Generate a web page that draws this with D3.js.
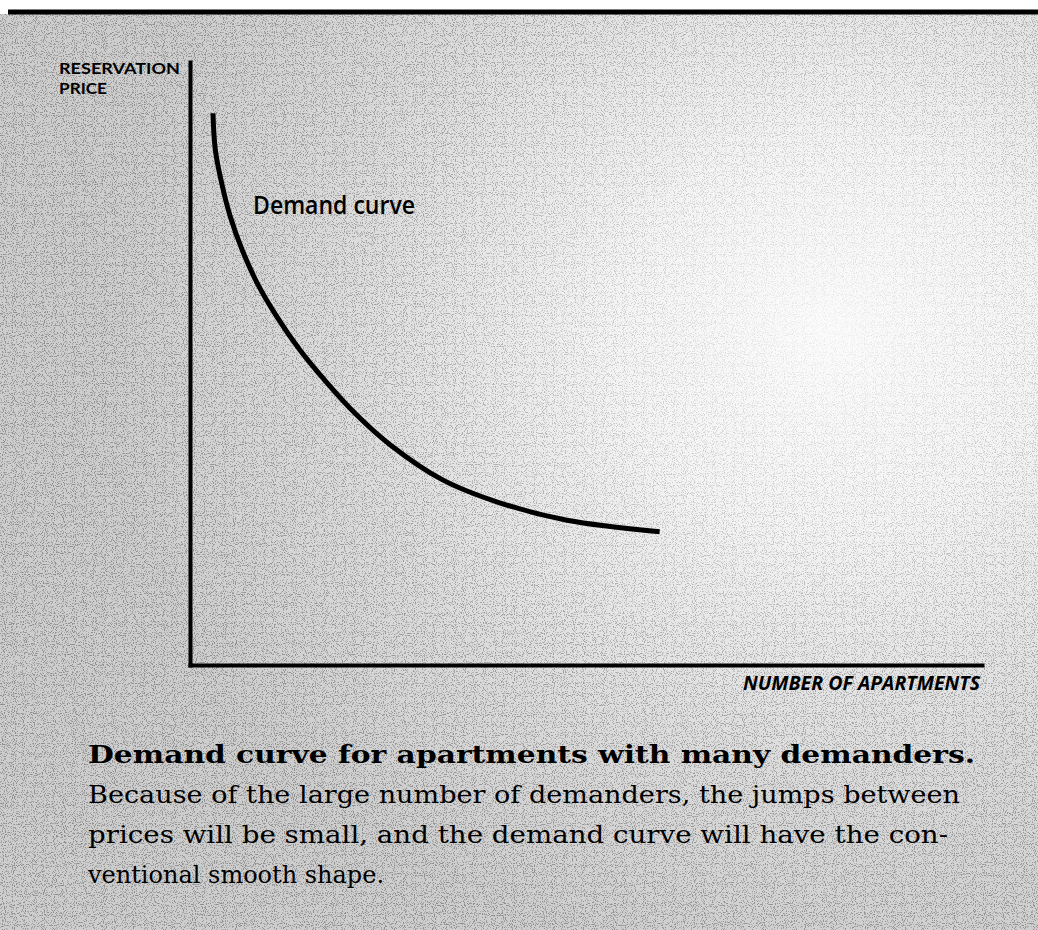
<!DOCTYPE html>
<html>
<head>
<meta charset="utf-8">
<script src="https://cdn.jsdelivr.net/npm/d3@7"></script>
<style>
  body { margin: 0; background: #ffffff; }
  svg { display: block; }
</style>
</head>
<body>
<svg id="chart" width="1038" height="930"></svg>
<script>
// demand curve (quantity 0-100, price 0-100)
var quantity = [2.9, 3.2, 4.0, 5.1, 6.6, 8.5, 11.0, 13.9, 17.3, 20.8, 25.3, 31.9, 39.1, 47.6, 59.3];
var price    = [91.5, 85.4, 79.9, 74.3, 68.8, 63.3, 57.7, 52.2, 46.8, 41.8, 36.5, 30.7, 26.9, 24.0, 22.1];

var y_title = ["RESERVATION", "PRICE"];
var x_title = "NUMBER OF APARTMENTS";
var curve_label = "Demand curve";

var caption_bold = "Demand curve for apartments with many demanders.";
var caption_lines = [
  "Because of the large number of demanders, the jumps between",
  "prices will be small, and the demand curve will have the con-",
  "ventional smooth shape."
];

var data = quantity.map(function(q, i){ return {q: q, p: price[i]}; });

// margins
var margin_l = 190;
var margin_r = 56;
var margin_t = 62;
var plot_bottom = 665;

var svg = d3.select("#chart");
var W = 1038, H = 930;

// scan-like background
var defs = svg.append("defs");
var grad = defs.append("radialGradient")
  .attr("id", "paper")
  .attr("cx", "0.8").attr("cy", "0.35").attr("r", "0.7");
grad.append("stop").attr("offset", "0").attr("stop-color", "#fbfbfb");
grad.append("stop").attr("offset", "0.3").attr("stop-color", "#f3f3f3");
grad.append("stop").attr("offset", "0.7").attr("stop-color", "#dadada");
grad.append("stop").attr("offset", "1").attr("stop-color", "#cdcdcd");

var speck = defs.append("filter").attr("id", "speck")
  .attr("x", 0).attr("y", 0).attr("width", "100%").attr("height", "100%");
speck.append("feTurbulence")
  .attr("type", "fractalNoise").attr("baseFrequency", 0.9)
  .attr("numOctaves", 1).attr("seed", 3).attr("result", "n");
speck.append("feColorMatrix")
  .attr("type", "matrix")
  .attr("values", "0 0 0 0 0  0 0 0 0 0  0 0 0 0 0  0 0 0 -3.2 1.9");
speck.append("feComponentTransfer")
  .append("feFuncA").attr("type", "discrete").attr("tableValues", "0 0 0.35 0.6");

var fade = defs.append("radialGradient")
  .attr("id", "fade")
  .attr("cx", "0.8").attr("cy", "0.35").attr("r", "0.7");
fade.append("stop").attr("offset", "0").attr("stop-color", "#fff").attr("stop-opacity", 0.15);
fade.append("stop").attr("offset", "0.6").attr("stop-color", "#fff").attr("stop-opacity", 0.9);
fade.append("stop").attr("offset", "1").attr("stop-color", "#fff").attr("stop-opacity", 1);
defs.append("mask").attr("id", "speckmask")
  .append("rect").attr("width", W).attr("height", H).attr("fill", "url(#fade)");

svg.append("rect")
  .attr("x", 0).attr("y", 14).attr("width", W).attr("height", H - 14)
  .attr("fill", "url(#paper)");
svg.append("rect")
  .attr("x", 0).attr("y", 14).attr("width", W).attr("height", H - 14)
  .attr("filter", "url(#speck)")
  .attr("mask", "url(#speckmask)")
  .attr("opacity", 0.5);

// top rule
svg.append("line")
  .attr("x1", 8).attr("x2", W).attr("y1", 12).attr("y2", 12)
  .attr("stroke", "#000").attr("stroke-width", 5);

// scales
var xScale = d3.scaleLinear()
  .domain([0, 100])
  .range([margin_l, W - margin_r]);

var yScale = d3.scaleLinear()
  .domain([0, 100])
  .range([plot_bottom, margin_t]);

// axes (plain lines, no ticks)
svg.append("g")
  .attr("transform", "translate(0," + plot_bottom + ")")
  .call(d3.axisBottom(xScale).tickValues([]).tickSizeOuter(0))
  .select(".domain").attr("stroke-width", 4).attr("stroke-linecap", "square");

svg.append("g")
  .attr("transform", "translate(" + margin_l + ",0)")
  .call(d3.axisLeft(yScale).tickValues([]).tickSizeOuter(0))
  .select(".domain").attr("stroke-width", 4).attr("stroke-linecap", "square");

// the curve
var line = d3.line()
  .x(function(d){ return xScale(d.q); })
  .y(function(d){ return yScale(d.p); })
  .curve(d3.curveCatmullRom.alpha(0.5));

svg.append("path")
  .datum(data)
  .attr("d", line)
  .attr("fill", "none")
  .attr("stroke", "#000")
  .attr("stroke-width", 5);

// labels
var sans = "'Open Sans', Lato, sans-serif";

svg.selectAll(".ytitle")
  .data(y_title)
  .enter().append("text")
  .attr("class", "ytitle")
  .attr("x", 59)
  .attr("y", function(d, i){ return 74 + i * 20; })
  .attr("textLength", function(d, i){ return i == 0 ? 121 : 48; })
  .attr("lengthAdjust", "spacingAndGlyphs")
  .style("font-family", "Lato, sans-serif")
  .style("font-weight", "bold")
  .style("font-size", "16px")
  .text(function(d){ return d; });

svg.append("text")
  .attr("x", 743).attr("y", 690)
  .attr("textLength", 237)
  .attr("lengthAdjust", "spacingAndGlyphs")
  .style("font-family", sans)
  .style("font-weight", "bold")
  .style("font-style", "italic")
  .style("font-size", "20px")
  .text(x_title);

svg.append("text")
  .attr("x", 253).attr("y", 214)
  .attr("textLength", 162)
  .attr("lengthAdjust", "spacingAndGlyphs")
  .style("font-family", sans)
  .style("font-weight", 600)
  .style("font-size", "26px")
  .text(curve_label);

// caption
var serif = "'DejaVu Serif', 'Liberation Serif', serif";

svg.append("text")
  .attr("x", 88).attr("y", 763)
  .attr("textLength", 887)
  .attr("lengthAdjust", "spacingAndGlyphs")
  .style("font-family", serif)
  .style("font-weight", "bold")
  .style("font-size", "24px")
  .text(caption_bold);

var cap_width = [872, 860, null];
svg.selectAll(".cap")
  .data(caption_lines)
  .enter().append("text")
  .attr("class", "cap")
  .attr("x", 88)
  .attr("y", function(d, i){ return 803 + i * 40; })
  .attr("textLength", function(d, i){ return cap_width[i]; })
  .attr("lengthAdjust", "spacingAndGlyphs")
  .style("font-family", serif)
  .style("font-size", "24px")
  .text(function(d){ return d; });
</script>
</body>
</html>
